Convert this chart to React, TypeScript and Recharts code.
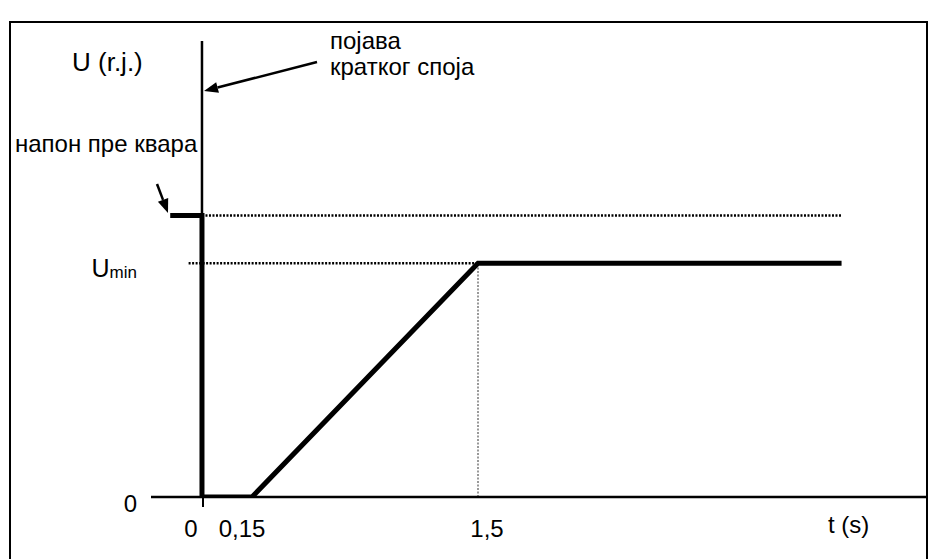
import { LineChart, Line, XAxis, YAxis, ReferenceLine } from "recharts";

// voltage profile during a short circuit (schematic)
const TIME_S = [-0.19, 0, 0, 0.15, 1.5, 3.67];
const VOLTAGE_PU = [1.0, 1.0, 0, 0, 0.83, 0.83];

const U_PRE = 1.0;
const U_MIN = 0.83;
const T_RECOVER = 1.5;
const T_END = 3.67;
const T_UMIN_GUIDE = -0.08;

const X_TICKS = [0, 0.15, 1.5];
const X_TICK_LABELS = ["0", "0,15", "1,5"];
const Y_TICKS = [0, U_MIN];

const T_MIN = -0.305;
const T_MAX = 4.18;
const U_MAX = 1.62;

const data = TIME_S.map((t, i) => ({ t, u: VOLTAGE_PU[i] }));

const FONT = "'Liberation Sans', Arial, sans-serif";

// the figure is not to scale: the first 0.15 s is drawn stretched
function piecewiseScale(knots: number[], fracs: number[]): any {
  let dom = [knots[0], knots[knots.length - 1]];
  let rng = [0, 1];
  const scale: any = (v: number) => {
    let i = 0;
    while (i < knots.length - 2 && v > knots[i + 1]) i++;
    const f =
      fracs[i] + ((v - knots[i]) / (knots[i + 1] - knots[i])) * (fracs[i + 1] - fracs[i]);
    return rng[0] + f * (rng[1] - rng[0]);
  };
  scale.domain = (d?: number[]) => {
    if (d === undefined) return dom.slice();
    dom = d.slice();
    return scale;
  };
  scale.range = (r?: number[]) => {
    if (r === undefined) return rng.slice();
    rng = r.slice();
    return scale;
  };
  scale.copy = () => piecewiseScale(knots, fracs).domain(dom).range(rng);
  scale.ticks = () => X_TICKS.slice();
  return scale;
}

const timeScale = piecewiseScale([T_MIN, 0, 0.15, 1.5, T_MAX], [0, 0.0657, 0.1302, 0.4214, 1]);

const TICK_DX = [-11, -10, 9];

function XTick(props: any) {
  const { x, y, index } = props;
  return (
    <g>
      {index === 0 && <line x1={x + 1} y1={y} x2={x + 1} y2={y + 10} stroke="#000" strokeWidth={2} />}
      <text
        x={x + TICK_DX[index]}
        y={y + 40}
        textAnchor="middle"
        fontFamily={FONT}
        fontSize={24}
        fill="#000"
      >
        {X_TICK_LABELS[index]}
      </text>
    </g>
  );
}

function YTick(props: any) {
  const { x, y, index } = props;
  if (index === 0) {
    return (
      <text x={x} y={y + 15} textAnchor="end" fontFamily={FONT} fontSize={24} fill="#000">
        0
      </text>
    );
  }
  return (
    <text x={x} y={y + 14} textAnchor="end" fontFamily={FONT} fill="#000">
      <tspan fontSize={25}>U</tspan>
      <tspan fontSize={17} dy={1}>
        min
      </tspan>
    </text>
  );
}

function Arrow({ x1, y1, x2, y2 }: { x1: number; y1: number; x2: number; y2: number }) {
  const len = Math.hypot(x2 - x1, y2 - y1);
  const ux = (x2 - x1) / len;
  const uy = (y2 - y1) / len;
  const head = 14;
  const half = 5.5;
  const bx = x2 - ux * head;
  const by = y2 - uy * head;
  const pts = `${x2},${y2} ${bx - uy * half},${by + ux * half} ${bx + uy * half},${by - ux * half}`;
  return (
    <g>
      <line x1={x1} y1={y1} x2={bx} y2={by} stroke="#000" strokeWidth={2.5} />
      <polygon points={pts} fill="#000" />
    </g>
  );
}

function Annotations() {
  const txt = { fontFamily: FONT, fontSize: 24, fill: "#000" };
  return (
    <svg
      width={930}
      height={559}
      style={{ position: "absolute", left: 0, top: 0, pointerEvents: "none" }}
    >
      <rect x={10} y={22} width={917} height={560} fill="none" stroke="#000" strokeWidth={2} />
      <text x={72} y={71} {...txt} fontSize={26}>
        U (r.j.)
      </text>
      <text x={330} y={49} {...txt}>
        појава
      </text>
      <text x={330} y={75} {...txt}>
        кратког споја
      </text>
      <text x={15} y={152} {...txt}>
        напон пре квара
      </text>
      <text x={828} y={533} {...txt}>
        t (s)
      </text>
      <Arrow x1={317} y1={62} x2={204} y2={91} />
      <Arrow x1={157} y1={184} x2={168} y2={213} />
    </svg>
  );
}

export default function App() {
  return (
    <div
      style={{
        position: "absolute",
        left: 0,
        top: 0,
        width: 930,
        height: 559,
        background: "#fff",
        overflow: "hidden",
      }}
    >
      <LineChart
        width={930}
        height={559}
        data={data}
        margin={{ top: 41, right: 3, bottom: 32, left: 91 }}
      >
        <XAxis
          dataKey="t"
          type="number"
          domain={[T_MIN, T_MAX]}
          scale={timeScale}
          ticks={X_TICKS}
          interval={0}
          tick={<XTick />}
          tickLine={false}
          tickSize={0}
          tickMargin={0}
          axisLine={{ stroke: "#000", strokeWidth: 2.5 }}
          height={30}
          allowDataOverflow
        />
        <YAxis
          type="number"
          domain={[0, U_MAX]}
          ticks={Y_TICKS}
          interval={0}
          tick={<YTick />}
          axisLine={false}
          tickLine={false}
          tickSize={0}
          tickMargin={14}
          width={60}
          allowDataOverflow
        />
        <ReferenceLine x={0} stroke="#000" strokeWidth={2.5} />
        <ReferenceLine
          segment={[
            { x: 0, y: U_PRE },
            { x: T_END, y: U_PRE },
          ]}
          stroke="#000"
          strokeWidth={2.5}
          strokeDasharray="2 1.5"
        />
        <ReferenceLine
          segment={[
            { x: T_UMIN_GUIDE, y: U_MIN },
            { x: T_RECOVER, y: U_MIN },
          ]}
          stroke="#000"
          strokeWidth={2.5}
          strokeDasharray="2 1.5"
        />
        <ReferenceLine
          segment={[
            { x: T_RECOVER, y: 0 },
            { x: T_RECOVER, y: U_MIN },
          ]}
          stroke="#999"
          strokeWidth={2}
          strokeDasharray="2 1.5"
        />
        <Line
          dataKey="u"
          type="linear"
          stroke="#000"
          strokeWidth={5}
          strokeLinejoin="miter"
          dot={false}
          activeDot={false}
          isAnimationActive={false}
        />
      </LineChart>
      <Annotations />
    </div>
  );
}
